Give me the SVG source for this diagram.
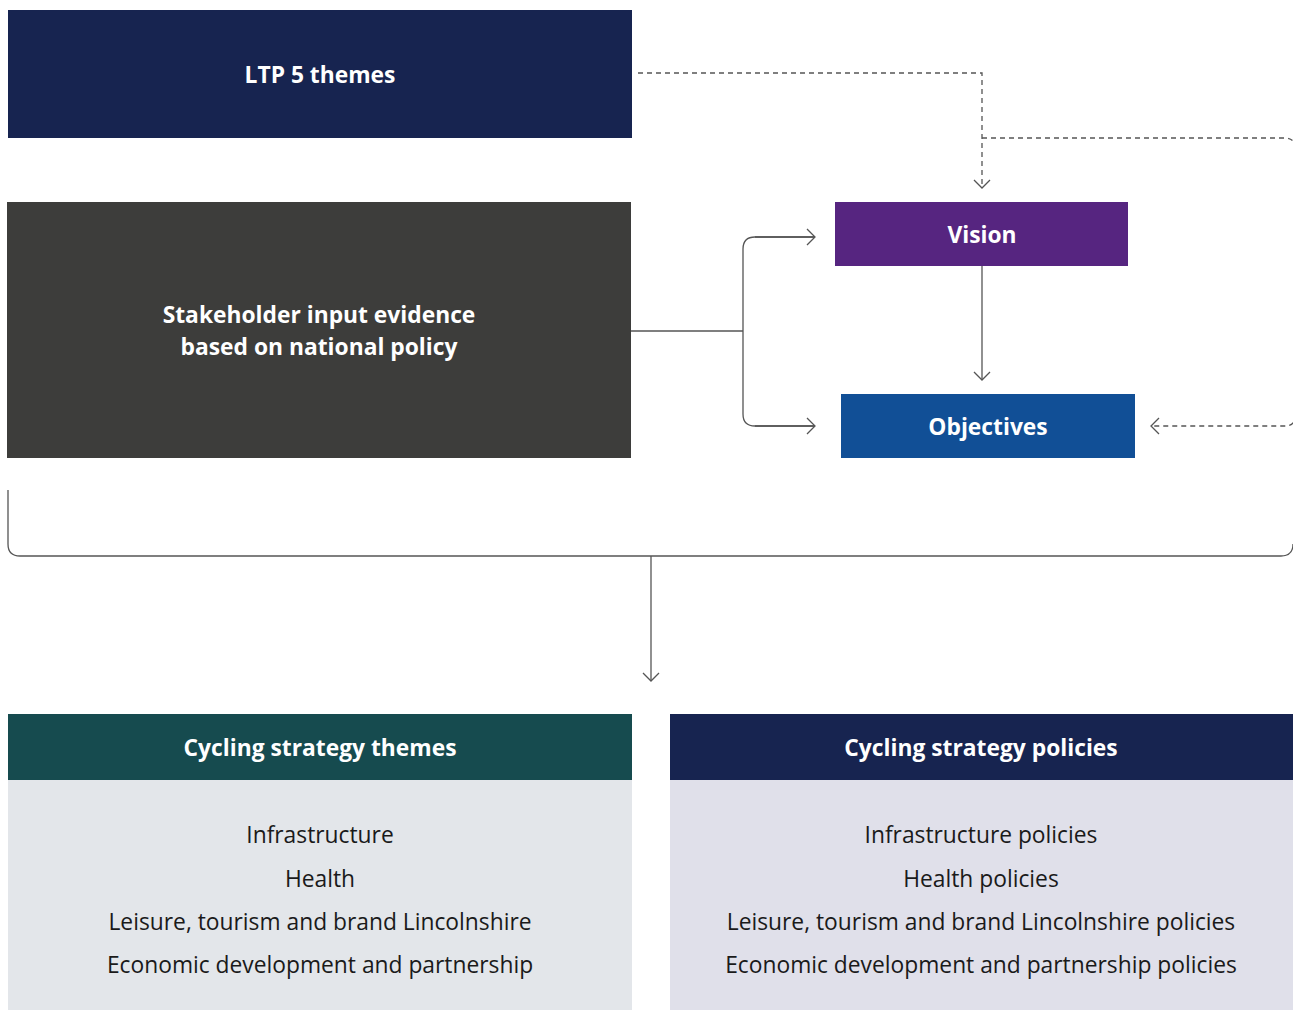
<svg xmlns="http://www.w3.org/2000/svg" width="1293" height="1010" viewBox="0 0 1293 1010">
<style>
.h{font-family:"Open Sans","Noto Sans","Liberation Sans",sans-serif;font-weight:700;font-size:22.8px;fill:#fff;text-anchor:middle;dominant-baseline:central}
.b{font-family:"Open Sans","Noto Sans","Liberation Sans",sans-serif;font-weight:400;font-size:22.8px;fill:#1a1a1a;text-anchor:middle;dominant-baseline:central}
.c{fill:none;stroke:#555;stroke-width:1.3}
.d{fill:none;stroke:#555;stroke-width:1.3;stroke-dasharray:5 4}
</style>
<defs>
<marker id="ch" markerUnits="userSpaceOnUse" viewBox="-10 -10 12 20" markerWidth="12" markerHeight="20" refX="0" refY="0" orient="auto" overflow="visible">
<path d="M-8,-8 L0,0 L-8,8" fill="none" stroke="#555" stroke-width="1.3"/>
</marker>
</defs>
<rect width="1293" height="1010" fill="#fff"/>
<g id="connectors">
<path class="d" d="M638,73 H982 V188" marker-end="url(#ch)"/>
<path class="d" d="M982,138 H1285 Q1295,138 1295,148 V416 Q1295,426 1285,426 H1151" marker-end="url(#ch)"/>
<path class="c" d="M631,331 H743"/>
<path class="c" d="M815,237 H755 Q743,237 743,249 V414 Q743,426 755,426 H815" />
<path class="c" d="M755,237 H815" marker-end="url(#ch)"/>
<path class="c" d="M755,426 H815" marker-end="url(#ch)"/>
<path class="c" d="M982,266 V380" marker-end="url(#ch)"/>
<path class="c" d="M8,490 V544 Q8,556 20,556 H1281 Q1293,556 1293,544"/>
<path class="c" d="M651,556 V681" marker-end="url(#ch)"/>
</g>
<g id="ltp">
<rect x="8" y="10" width="624" height="128" fill="#172450"/>
<text class="h" x="320" y="74">LTP 5 themes</text>
</g>
<g id="stakeholder">
<rect x="7" y="202" width="624" height="256" fill="#3d3d3b"/>
<text class="h" x="319" y="314">Stakeholder input evidence</text>
<text class="h" x="319" y="346">based on national policy</text>
</g>
<g id="vision">
<rect x="835" y="202" width="293" height="64" fill="#562580"/>
<text class="h" x="982" y="234">Vision</text>
</g>
<g id="objectives">
<rect x="841" y="394" width="294" height="64" fill="#114f96"/>
<text class="h" x="988" y="426">Objectives</text>
</g>
<g id="themes">
<rect x="8" y="714" width="624" height="66" fill="#164b4f"/>
<rect x="8" y="780" width="624" height="230" fill="#e3e6ea"/>
<text class="h" x="320" y="747">Cycling strategy themes</text>
<text class="b" x="320" y="834">Infrastructure</text>
<text class="b" x="320" y="878">Health</text>
<text class="b" x="320" y="921">Leisure, tourism and brand Lincolnshire</text>
<text class="b" x="320" y="964">Economic development and partnership</text>
</g>
<g id="policies">
<rect x="670" y="714" width="623" height="66" fill="#172450"/>
<rect x="670" y="780" width="623" height="230" fill="#e0e0ea"/>
<text class="h" x="981" y="747">Cycling strategy policies</text>
<text class="b" x="981" y="834">Infrastructure policies</text>
<text class="b" x="981" y="878">Health policies</text>
<text class="b" x="981" y="921">Leisure, tourism and brand Lincolnshire policies</text>
<text class="b" x="981" y="964">Economic development and partnership policies</text>
</g>
</svg>
